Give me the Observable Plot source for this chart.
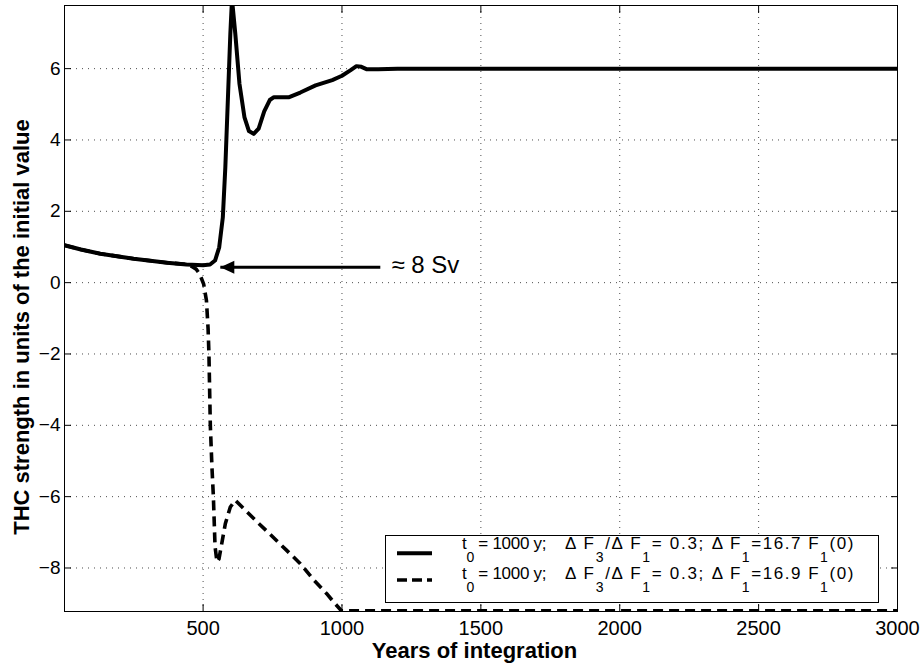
<!DOCTYPE html>
<html>
<head>
<meta charset="utf-8">
<script src="https://cdn.jsdelivr.net/npm/d3@7"></script>
<script src="https://cdn.jsdelivr.net/npm/@observablehq/plot@0.6"></script>
<style>
  html, body { margin: 0; padding: 0; background: #fff; }
  #chart { position: relative; width: 920px; height: 666px; font-family: 'Liberation Sans', Arial, Helvetica, sans-serif; }
  #legend { position: absolute; left: 0; top: 0; pointer-events: none; }
</style>
</head>
<body>
<div id="chart"></div>
<script>
// ---- data ----
const solidYears = [1, 60, 130, 250, 370, 440, 500, 525, 543, 558, 571, 580, 589, 598, 604, 616, 631, 649, 665, 682, 700, 720, 740, 755, 810, 850, 905, 965, 1000, 1030, 1052, 1070, 1090, 1130, 1200, 1500, 2000, 2500, 3000];
const solidTHC   = [1.05, 0.93, 0.81, 0.67, 0.56, 0.51, 0.49, 0.51, 0.62, 0.99, 1.83, 3.23, 5.1, 6.97, 7.95, 6.97, 5.57, 4.63, 4.25, 4.17, 4.32, 4.8, 5.12, 5.2, 5.2, 5.33, 5.53, 5.68, 5.8, 5.95, 6.07, 6.05, 5.98, 5.98, 6.0, 6.0, 6.0, 6.0, 6.0];

const dashedYears = [1, 60, 130, 250, 370, 440, 458, 475, 488, 502, 512, 518, 521, 526, 532, 537, 543, 550, 557, 564, 580, 598, 616, 635, 700, 730, 800, 850, 900, 945, 975, 998, 1500, 2000, 2500, 3000];
const dashedTHC   = [1.05, 0.93, 0.81, 0.67, 0.56, 0.51, 0.46, 0.38, 0.24, -0.04, -0.5, -1.3, -2.0, -4.0, -5.2, -6.0, -7.4, -7.83, -7.75, -7.45, -6.76, -6.29, -6.1, -6.25, -6.75, -6.97, -7.5, -7.88, -8.35, -8.72, -9.0, -9.2, -9.2, -9.2, -9.2, -9.2];

const xTicks = [500, 1000, 1500, 2000, 2500, 3000];
const yTicks = [-8, -6, -4, -2, 0, 2, 4, 6];
const xDomain = [1, 3000];
const yDomain = [-9.22, 7.77];

const xLabel = "Years of integration";
const yLabel = "THC strength in units of the initial value";

const annotation = [{x1: 1138, x2: 562, y: 0.43, textX: 1178, textY: 0.476, text: "≈ 8 Sv"}];

const legendLabels = [
  ["t_0 = 1000 y;", "Δ F_3/Δ F_1= 0.3;", "Δ F_1=16.7 F_1(0)"],
  ["t_0 = 1000 y;", "Δ F_3/Δ F_1= 0.3;", "Δ F_1=16.9 F_1(0)"]
];

// ---- build table ----
const solid = solidYears.map((x, i) => ({x, y: solidTHC[i]}));
const dashed = dashedYears.map((x, i) => ({x, y: dashedTHC[i]}));

const fmtX = d => String(d);
const fmtY = d => d < 0 ? "\u2212" + (-d) : String(d);

const leftTriangle = {
  draw(context) {
    context.moveTo(0, 0);
    context.lineTo(14, -6.5);
    context.lineTo(14, 6.5);
    context.closePath();
  }
};

const gridStyle = {stroke: "#000", strokeOpacity: 0.7, strokeDasharray: "1,5", strokeWidth: 1};

const plot = Plot.plot({
  width: 920,
  height: 666,
  marginLeft: 64,
  marginRight: 23,
  marginTop: 5,
  marginBottom: 55,
  style: {fontFamily: "'Liberation Sans', Arial, Helvetica, sans-serif", background: "white", color: "black"},
  x: {domain: xDomain},
  y: {domain: yDomain},
  marks: [
    Plot.gridX(xTicks, gridStyle),
    Plot.gridY(yTicks, gridStyle),
    Plot.line(dashed, {x: "x", y: "y", stroke: "black", strokeWidth: 3.6, strokeDasharray: "10,6", strokeLinecap: "butt", clip: true}),
    Plot.line(solid, {x: "x", y: "y", stroke: "black", strokeWidth: 4, clip: true}),
    Plot.link(annotation, {x1: "x1", x2: "x2", y1: "y", y2: "y", stroke: "black", strokeWidth: 3}),
    Plot.dot(annotation, {x: "x2", y: "y", symbol: leftTriangle, fill: "black", stroke: "none"}),
    Plot.text(annotation, {x: "textX", y: "textY", text: "text", textAnchor: "start", fontSize: 24, fill: "black"}),
    Plot.frame({stroke: "black", strokeWidth: 1}),
    Plot.axisX(xTicks, {anchor: "bottom", tickSize: 0, tickPadding: 9, tickFormat: fmtX, fontSize: 20, label: null}),
    Plot.axisX(xTicks, {anchor: "bottom", tickSize: 7, dy: -7, fill: "none", label: null}),
    Plot.axisX(xTicks, {anchor: "top", tickSize: 7, dy: 7, fill: "none", label: null}),
    Plot.axisY(yTicks, {anchor: "left", tickSize: 0, tickPadding: 4, tickFormat: fmtY, fontSize: 19, label: null}),
    Plot.axisY(yTicks, {anchor: "left", tickSize: 7, dx: 7, fill: "none", label: null}),
    Plot.axisY(yTicks, {anchor: "right", tickSize: 7, dx: -7, fill: "none", label: null}),
    Plot.text([xLabel], {frameAnchor: "bottom", textAnchor: "middle", lineAnchor: "top", dy: 30.7, dx: -6.5, fontSize: 22, fontWeight: "bold", text: d => d, fill: "black"}),
    Plot.text([yLabel], {frameAnchor: "left", textAnchor: "middle", lineAnchor: "middle", rotate: -90, dx: -42.5, dy: 18.5, fontSize: 22, fontWeight: "bold", text: d => d, fill: "black"})
  ]
});

const chart = document.getElementById("chart");
chart.appendChild(plot);

// ---- legend overlay ----
const svg = d3.select(chart).append("svg")
  .attr("id", "legend")
  .attr("width", 920).attr("height", 666)
  .style("font-family", "'Liberation Sans', Arial, Helvetica, sans-serif");

svg.append("rect")
  .attr("x", 385.5).attr("y", 535.5).attr("width", 493).attr("height", 67)
  .attr("fill", "white").attr("stroke", "black").attr("stroke-width", 1);

const sampleY = [553.3, 580];
const baseY = [548.7, 578.7];
const segX = [[462, null], [565, 703.3], [711.7, 853.3]];
const dashes = [null, "10,5"];
const widths = [4, 3.6];

legendLabels.forEach((segs, row) => {
  const ln = svg.append("line")
    .attr("x1", 397).attr("x2", 432)
    .attr("y1", sampleY[row]).attr("y2", sampleY[row])
    .attr("stroke", "black").attr("stroke-width", widths[row]);
  if (dashes[row]) ln.attr("stroke-dasharray", dashes[row]);
  segs.forEach((seg, j) => {
    const t = svg.append("text")
      .attr("x", segX[j][0]).attr("y", baseY[row])
      .attr("font-size", 17)
      .attr("fill", "black");
    if (segX[j][1] !== null) {
      t.attr("textLength", segX[j][1] - segX[j][0]).attr("lengthAdjust", "spacing");
    } else {
      t.attr("letter-spacing", -0.3);
    }
    const parts = seg.split(/_(.)/);
    let down = false;
    parts.forEach((p, k) => {
      if (p === "") return;
      const isSub = k % 2 === 1;
      const ts = t.append("tspan").text(p);
      if (isSub) { ts.attr("dy", 13).attr("font-size", 14); down = true; }
      else if (down) { ts.attr("dy", -13); down = false; }
    });
  });
});
</script>
</body>
</html>
